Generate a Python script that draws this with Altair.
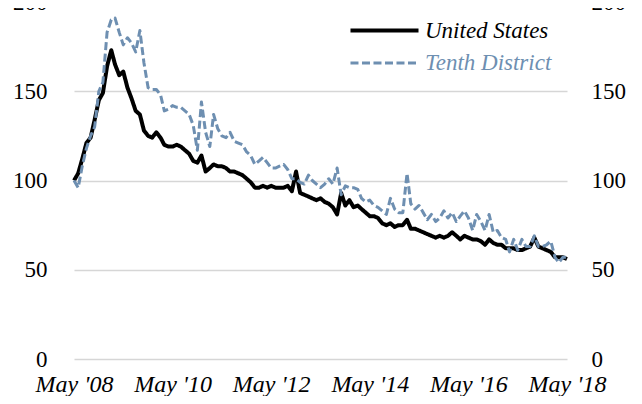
import altair as alt
import pandas as pd

months = pd.date_range("2008-05-01", "2018-05-01", freq="MS")
series_names = ["United States", "Tenth District"]
line_colors = ["#000000", "#6e8fb1"]
y_ticks = [0, 50, 100, 150, 200]
x_ticks = [alt.DateTime(year=y, month=5, date=1) for y in range(2008, 2019, 2)]

us = [100, 104, 112, 121, 124, 134, 145, 149, 164, 173,
      165, 159, 161, 152, 146, 139, 137, 128, 125, 124,
      127, 124, 120, 119, 119, 120, 119, 117, 115, 111,
      110, 114, 105, 107, 109, 108, 108, 107, 105, 105,
      104, 103, 101, 99, 96, 96, 97, 96, 97, 96,
      96, 96, 97, 94, 105, 93, 92, 91, 90, 89,
      90, 88, 87, 85, 81, 93, 86, 89, 85, 86,
      84, 82, 80, 80, 79, 76, 75, 76, 74, 75,
      75, 78, 73, 73, 72, 71, 70, 69, 68, 69,
      68, 69, 71, 69, 67, 69, 68, 67, 67, 66,
      64, 67, 65, 64, 64, 62, 62, 62, 61, 61,
      62, 63, 68, 63, 62, 61, 60, 57, 57, 57,
      56]

tenth = [100, 96, 108, 118, 125, 130, 150, 155, 183, 190,
         191, 183, 176, 180, 177, 172, 184, 166, 152, 151,
         151, 148, 139, 140, 142, 141, 141, 139, 137, 131,
         117, 144, 127, 119, 137, 129, 125, 124, 127, 122,
         121, 120, 116, 114, 109, 111, 113, 110, 107, 107,
         108, 109, 106, 101, 101, 99, 98, 103, 100, 98,
         96, 98, 101, 98, 107, 92, 97, 96, 96, 95,
         90, 88, 89, 86, 85, 83, 81, 90, 84, 82,
         82, 104, 87, 84, 86, 82, 78, 81, 77, 79,
         83, 79, 82, 77, 80, 83, 79, 72, 81, 77,
         72, 81, 71, 72, 68, 67, 60, 67, 61, 67,
         63, 63, 69, 63, 63, 64, 66, 57, 54, 57,
         57]

rows = []
for name, vals in zip(series_names, [us, tenth]):
    for d, v in zip(months, vals):
        rows.append({"date": d, "value": v, "series": name})
df = pd.DataFrame(rows)

FONT = "Liberation Serif"

legend = alt.Legend(
    title=None,
    orient="none",
    legendX=290,
    legendY=8,
    symbolType="M-1.85,0H1.85",
    symbolSize=1352,
    labelFont=FONT,
    labelFontStyle="italic",
    labelFontSize=23,
    labelOffset=20,
    labelColor={"expr": "datum.label == 'Tenth District' ? '#6e8fb1' : '#000000'"},
    padding=0,
    rowPadding=0,
)

x_enc = alt.X(
    "date:T",
    scale=alt.Scale(domain=[alt.DateTime(year=2008, month=5, date=1),
                            alt.DateTime(year=2018, month=5, date=1)]),
    axis=alt.Axis(
        title=None, values=x_ticks, format="%b '%y", labelAngle=0,
        labelFont=FONT, labelFontStyle="italic", labelFontSize=24,
        labelColor="#000000", labelPadding=13, labelFlush=False,
        labelOverlap=False, ticks=False, domain=False, grid=False,
    ),
)

y_scale = alt.Scale(domain=[0, 200], nice=False, zero=True)

lines = alt.Chart(df).mark_line(strokeJoin="round").encode(
    x=x_enc,
    y=alt.Y("value:Q", scale=y_scale, axis=alt.Axis(
        title=None, orient="left", values=y_ticks, grid=True,
        gridColor="#d6d6d6", gridWidth=1.5, ticks=False, domain=False,
        labelFont=FONT, labelFontSize=23, labelColor="#000000",
        labelPadding=27)),
    color=alt.Color("series:N", scale=alt.Scale(domain=series_names, range=line_colors),
                    sort=series_names, legend=legend),
    strokeDash=alt.StrokeDash("series:N", scale=alt.Scale(domain=series_names, range=[[1, 0], [8, 3.5]]),
                              sort=series_names, legend=legend),
    strokeWidth=alt.StrokeWidth("series:N", scale=alt.Scale(domain=series_names, range=[4, 3]),
                                sort=series_names, legend=legend),
)

right = alt.Chart(df).mark_line(opacity=0).encode(
    x=x_enc,
    y=alt.Y("value:Q", scale=y_scale, axis=alt.Axis(
        title=None, orient="right", values=y_ticks, grid=False,
        ticks=False, domain=False, labelFont=FONT, labelFontSize=23,
        labelColor="#000000", labelPadding=24)),
    detail="series:N",
)

chart = alt.layer(right, lines).resolve_axis(y="independent").properties(
    width=493,
    height=357,
    autosize=alt.AutoSizeParams(type="none"),
    padding={"left": 66, "top": -6, "right": 60, "bottom": 37},
).configure_view(stroke=None).configure_legend(
    labelFont=FONT, labelFontStyle="italic", labelFontSize=23,
)

chart.save("out.html", embed_options={"renderer": "svg", "actions": False})
